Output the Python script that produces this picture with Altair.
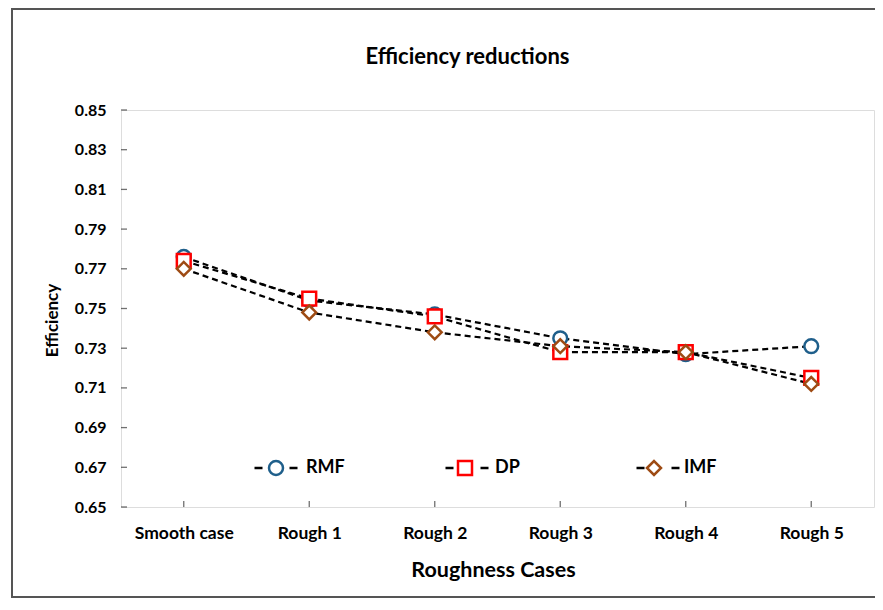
import altair as alt
import pandas as pd

cases = ["Smooth case", "Rough 1", "Rough 2", "Rough 3", "Rough 4", "Rough 5"]
series_names = ["RMF", "DP", "IMF"]
rmf = [0.776, 0.754, 0.747, 0.735, 0.727, 0.731]
dp = [0.774, 0.755, 0.746, 0.728, 0.728, 0.715]
imf = [0.770, 0.748, 0.738, 0.731, 0.728, 0.712]
y_ticks = [0.65, 0.67, 0.69, 0.71, 0.73, 0.75, 0.77, 0.79, 0.81, 0.83, 0.85]

colors = ["#1F5F8B", "#FF0000", "#9E4B14"]
shapes = ["circle", "square", "diamond"]

rows = []
for name, vals in zip(series_names, [rmf, dp, imf]):
    for c, v in zip(cases, vals):
        rows.append({"case": c, "series": name, "eff": v})
df = pd.DataFrame(rows)

W, H = 753, 397
FONT = "Lato"

x_enc = alt.X("case:N", sort=cases, scale=alt.Scale(type="point", padding=0.5),
              axis=alt.Axis(title="Roughness Cases", labelAngle=0, ticks=False, domain=False,
                            labelPadding=26, labelBaseline="middle", labelFontSize=17.5,
                            labelFontWeight="bold", labelFont=FONT, labelColor="#000",
                            titleFont=FONT, titleFontSize=21.5, titleFontWeight="bold",
                            titleColor="#000", titleX=372, titleY=63, titleBaseline="middle",
                            grid=False))
y_enc = alt.Y("eff:Q", scale=alt.Scale(domain=[0.65, 0.85], nice=False, zero=False),
              axis=alt.Axis(title="Efficiency", values=y_ticks, format=".2f", ticks=False,
                            domain=False, grid=False, labelPadding=15, labelFontSize=16,
                            labelOverlap=False, labelFontWeight="bold", labelFont=FONT,
                            labelColor="#000", titleFont=FONT, titleFontSize=17,
                            titleFontWeight="bold", titleColor="#000", titleX=-69, titleY=210,
                            titleAngle=270, titleAlign="center", titleBaseline="middle"))

# dashed-stroke part of the legend symbols (no labels)
dash_legend = alt.Legend(orient="none", legendX=132, legendY=335, direction="horizontal",
                         columns=3, columnPadding=137, symbolType="stroke", symbolSize=1849,
                         symbolStrokeWidth=2.5, symbolStrokeColor="black", title=None,
                         padding=0, labelExpr="''", labelOffset=0)

# marker part of the legend symbols, with the labels
mark_legend = alt.Legend(orient="none", legendX=146, legendY=349, direction="horizontal",
                         columns=3, gridAlign="all", columnPadding=108, symbolSize=196,
                         symbolStrokeWidth=2.5, symbolFillColor="white", title=None, padding=0,
                         labelFont=FONT, labelFontSize=18, labelFontWeight="bold",
                         labelColor="#000", labelOffset=21)

lines = alt.Chart(df).mark_line(color="black", strokeWidth=2.2, strokeDash=[6, 4]).encode(
    x=x_enc, y=y_enc,
    detail=alt.Detail("series:N"),
    order=alt.Order("case_idx:Q"),
).transform_calculate(case_idx="indexof(%s, datum.case)" % str(cases))

legend_dash = alt.Chart(df).mark_line(color="black", strokeWidth=2.5).encode(
    x=x_enc, y=y_enc,
    strokeDash=alt.StrokeDash("series:N", sort=series_names,
                              scale=alt.Scale(domain=series_names,
                                              range=[[8, 27], [8, 27], [8, 27]]),
                              legend=dash_legend),
).transform_filter("false")

points = alt.Chart(df).mark_point(filled=False, fill="white", fillOpacity=1, opacity=1,
                                  strokeWidth=2.5, size=190).encode(
    x=x_enc, y=y_enc,
    color=alt.Color("series:N", sort=series_names,
                    scale=alt.Scale(domain=series_names, range=colors), legend=mark_legend),
    shape=alt.Shape("series:N", sort=series_names,
                    scale=alt.Scale(domain=series_names, range=shapes), legend=mark_legend),
)

tick_df = pd.DataFrame({"eff": y_ticks})
y_tick_marks = alt.Chart(tick_df).mark_tick(orient="horizontal", color="#333", thickness=1.3,
                                            size=6).encode(
    y=y_enc, x=alt.value(3))

case_df = pd.DataFrame({"case": cases})
x_tick_marks = alt.Chart(case_df).mark_tick(orient="vertical", color="#333", thickness=1.3,
                                            size=6).encode(
    x=x_enc, y=alt.value(H - 3))

frame = alt.Chart(case_df).mark_rect(fill=None, stroke="#555", strokeWidth=1.5, clip=False).encode(
    x=alt.value(-109), x2=alt.value(800), y=alt.value(-101), y2=alt.value(487))

chart = alt.layer(frame, lines, legend_dash, points, y_tick_marks, x_tick_marks).resolve_legend(
    strokeDash="independent"
).properties(
    width=W, height=H,
    title=alt.TitleParams("Efficiency reductions", font=FONT, fontSize=22, fontWeight="bold",
                          color="#000", frame="group", anchor="middle", dx=-30,
                          offset=-71, baseline="middle"),
    autosize=alt.AutoSizeParams(type="none"),
    padding={"left": 113, "top": 102, "right": 1, "bottom": 91},
).configure_view(stroke="#333", strokeWidth=1.5).configure_axis(
    labelOverlap=False
).configure(background="white")

chart.save("out.html", embed_options={"renderer": "svg", "actions": False})
